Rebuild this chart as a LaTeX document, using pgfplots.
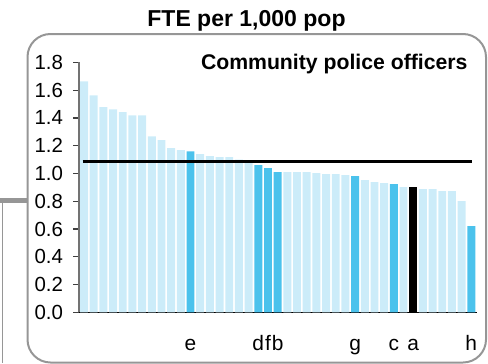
\documentclass[border=0pt]{standalone}
\usepackage{fontspec}
\setmainfont{Liberation Sans}
\usepackage{pgfplots}
\pgfplotsset{compat=1.18}
\definecolor{lightbar}{RGB}{204,236,249}
\definecolor{darkbar}{RGB}{75,194,236}
\definecolor{framegray}{RGB}{150,150,150}

\begin{document}
\begin{tikzpicture}[x=1bp,y=1bp]
\path[use as bounding box] (0,0) rectangle (488,363);
\clip (0,0) rectangle (488,363);

% frame and connector
\draw[framegray, line width=2bp, rounded corners=23bp] (27.5,0.5) rectangle (486,329);
\draw[framegray, line width=5bp] (0,162.3) -- (27.5,162.3);
\draw[framegray, line width=1.8bp] (2.5,162.3) -- (2.5,0);

% title
\node[anchor=base, font=\bfseries\fontsize{23.1}{27}\selectfont] at (246.5,337) {FTE per 1,000 pop};

\begin{axis}[
  at={(79bp,50.7bp)}, anchor=south west,
  scale only axis, width=397.6bp, height=249.9bp,
  xmin=0.48, xmax=41.55, ymin=0, ymax=1.8,
  axis lines=left,
  x axis line style={-, black, line width=1.5bp},
  y axis line style={-, black!55, line width=2bp},
  /pgf/number format/assume math mode=true,
  ytick={0,0.2,0.4,0.6,0.8,1.0,1.2,1.4,1.6,1.8},
  yticklabel style={/pgf/number format/.cd, fixed, fixed zerofill, precision=1, /tikz/.cd,
    font=\fontsize{20.5}{24}\selectfont, anchor=east, xshift=-6.5bp},
  ytick style={black!75, line width=1.2bp},
  tick align=outside, major tick length=6bp,
  xtick={12,19,20,21,29,33,35,41},
  xticklabels={e,d,f,b,g,c,a,h},
  xtick style={draw=none},
  xticklabel style={anchor=base, yshift=-32bp, font=\fontsize{21}{25}\selectfont},
]
% other areas
\addplot[ybar, bar width=0.82, bar shift=0pt, fill=lightbar, draw=none] coordinates {
  (1,1.664) (2,1.563) (3,1.477) (4,1.462) (5,1.441) (6,1.419) (7,1.419)
  (8,1.268) (9,1.240) (10,1.182) (11,1.168) (13,1.139) (14,1.125)
  (15,1.117) (16,1.117) (17,1.100) (18,1.090) (22,1.009) (23,1.009)
  (24,1.009) (25,1.002) (26,0.995) (27,0.995) (28,0.988) (30,0.952)
  (31,0.937) (32,0.930) (34,0.901) (36,0.887) (37,0.887) (38,0.872)
  (39,0.872) (40,0.800)
};
% comparison group
\addplot[ybar, bar width=0.82, bar shift=0pt, fill=darkbar, draw=none] coordinates {
  (12,1.160) (19,1.060) (20,1.038) (21,1.009) (29,0.980) (33,0.923) (41,0.621)
};
% this area
\addplot[ybar, bar width=0.82, bar shift=0pt, fill=black, draw=none] coordinates {
  (35,0.901)
};
% average
\addplot[black, line width=2.5bp] coordinates {(0.85,1.088) (41.05,1.088)};
\end{axis}

\node[anchor=base east, font=\bfseries\fontsize{21.3}{25}\selectfont] at (471,294) {Community police officers};
\end{tikzpicture}
\end{document}
